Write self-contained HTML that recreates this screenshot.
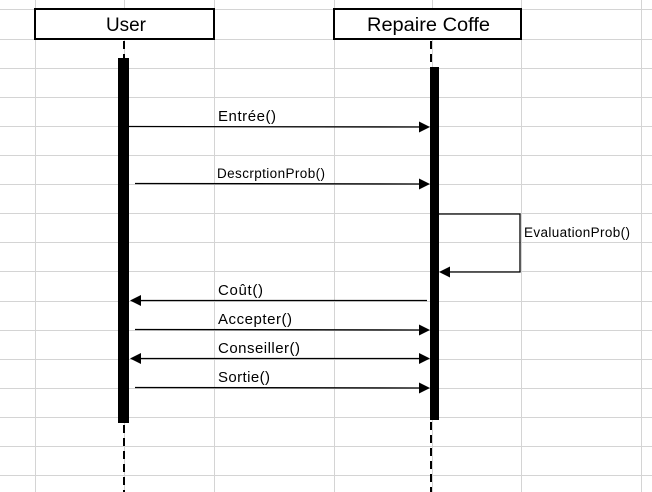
<!DOCTYPE html>
<html><head><meta charset="utf-8"><style>
html,body{margin:0;padding:0;background:#fff;}
svg{display:block;}
text{font-family:"Liberation Sans",sans-serif;fill:#000;}
</style></head><body>
<svg width="652" height="492" viewBox="0 0 652 492" xmlns="http://www.w3.org/2000/svg">
<g stroke="#d4d4d4" stroke-width="1">
<line x1="35.5" y1="0" x2="35.5" y2="492"/>
<line x1="124.5" y1="0" x2="124.5" y2="492"/>
<line x1="214.5" y1="0" x2="214.5" y2="492"/>
<line x1="334.5" y1="0" x2="334.5" y2="492"/>
<line x1="432.5" y1="0" x2="432.5" y2="492"/>
<line x1="521.5" y1="0" x2="521.5" y2="492"/>
<line x1="641.5" y1="0" x2="641.5" y2="492"/>
<line x1="0" y1="9.5" x2="652" y2="9.5"/>
<line x1="0" y1="39.5" x2="652" y2="39.5"/>
<line x1="0" y1="68.5" x2="652" y2="68.5"/>
<line x1="0" y1="97.5" x2="652" y2="97.5"/>
<line x1="0" y1="126.5" x2="652" y2="126.5"/>
<line x1="0" y1="155.5" x2="652" y2="155.5"/>
<line x1="0" y1="184.5" x2="652" y2="184.5"/>
<line x1="0" y1="213.5" x2="652" y2="213.5"/>
<line x1="0" y1="242.5" x2="652" y2="242.5"/>
<line x1="0" y1="271.5" x2="652" y2="271.5"/>
<line x1="0" y1="301.5" x2="652" y2="301.5"/>
<line x1="0" y1="330.5" x2="652" y2="330.5"/>
<line x1="0" y1="359.5" x2="652" y2="359.5"/>
<line x1="0" y1="388.5" x2="652" y2="388.5"/>
<line x1="0" y1="417.5" x2="652" y2="417.5"/>
<line x1="0" y1="446.5" x2="652" y2="446.5"/>
<line x1="0" y1="475.5" x2="652" y2="475.5"/>
</g>
<rect x="35" y="9" width="179" height="30" fill="#fff" stroke="#000" stroke-width="2"/>
<text x="106" y="31" font-size="19" textLength="40" lengthAdjust="spacingAndGlyphs">User</text>
<rect x="334" y="9" width="187" height="30" fill="#fff" stroke="#000" stroke-width="2"/>
<text x="367" y="31" font-size="19" textLength="123" lengthAdjust="spacingAndGlyphs">Repaire Coffe</text>
<g stroke="#000" stroke-width="2" stroke-dasharray="8,5">
<line x1="124" y1="41" x2="124" y2="58"/>
<line x1="124" y1="425" x2="124" y2="492"/>
<line x1="431" y1="41" x2="431" y2="67"/>
<line x1="431" y1="422" x2="431" y2="492"/>
</g>
<rect x="118" y="58" width="11" height="365" fill="#000"/>
<rect x="430" y="67" width="9" height="353" fill="#000"/>
<g stroke="#000" stroke-width="1.3" fill="none">
<line x1="129" y1="126.5" x2="420" y2="127"/>
<line x1="135" y1="183.5" x2="420" y2="184"/>
<polyline points="439,214 520,214 520,272 448,272"/>
<line x1="427" y1="300.5" x2="140" y2="300.5"/>
<line x1="135" y1="329.5" x2="420" y2="330"/>
<line x1="140" y1="358.5" x2="420" y2="358.5"/>
<line x1="135" y1="387.5" x2="420" y2="388"/>
</g>
<g fill="#000">
<polygon points="430,127 419,121.5 419,132.5"/>
<polygon points="430,184 419,178.5 419,189.5"/>
<polygon points="439,272 450,266.5 450,277.5"/>
<polygon points="130,300.5 141,295 141,306"/>
<polygon points="430,330 419,324.5 419,335.5"/>
<polygon points="130,358.5 141,353 141,364"/>
<polygon points="430,358.5 419,353 419,364"/>
<polygon points="430,388 419,382.5 419,393.5"/>
</g>
<g font-size="15" lengthAdjust="spacingAndGlyphs">
<text x="218" y="121" textLength="58">Entrée()</text>
<text x="217" y="178" font-size="13.5" textLength="108">DescrptionProb()</text>
<text x="524" y="237" font-size="13.5" textLength="106">EvaluationProb()</text>
<text x="218" y="295" textLength="45">Coût()</text>
<text x="218" y="324" textLength="74">Accepter()</text>
<text x="218" y="353" textLength="82">Conseiller()</text>
<text x="218" y="382" textLength="52">Sortie()</text>
</g>
</svg>
</body></html>
